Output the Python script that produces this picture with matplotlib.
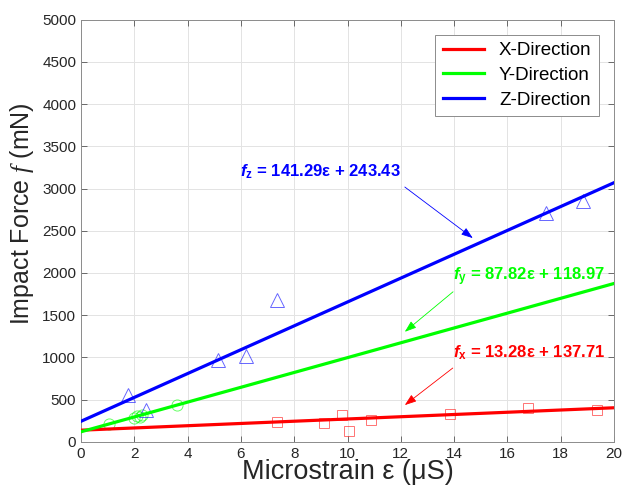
import matplotlib
matplotlib.use("Agg")
import matplotlib.pyplot as plt

# fitted coefficients (slope, intercept) per direction
fit_x = (13.28, 137.71)
fit_y = (87.82, 118.97)
fit_z = (141.29, 243.43)
fit_range = [0, 20]

# measured points
eps_x = [7.35, 9.1, 9.78, 10.04, 10.88, 13.84, 16.78, 19.38]
force_x = [236, 224, 319, 130, 264, 331, 405, 374]

eps_y = [1.06, 2.0, 2.1, 2.2, 2.3, 3.59]
force_y = [209, 285, 300, 292, 312, 441]

eps_z = [1.75, 2.44, 5.13, 6.19, 7.37, 17.46, 18.84]
force_z = [551, 382, 965, 1012, 1679, 2706, 2855]

x_ticks = list(range(0, 21, 2))
y_ticks = list(range(0, 5001, 500))

plt.rcParams["font.family"] = ["Liberation Sans", "DejaVu Sans"]
plt.rcParams["mathtext.fontset"] = "custom"
plt.rcParams["mathtext.it"] = "Liberation Serif:italic"
plt.rcParams["mathtext.bf"] = "Liberation Sans:bold"
plt.rcParams["mathtext.bfit"] = "Liberation Sans:italic:bold"
plt.rcParams["mathtext.rm"] = "Liberation Sans"

fig = plt.figure(figsize=(6.33, 4.92), dpi=100)
ax = fig.add_axes([0.128, 0.102, 0.842, 0.858])

red, green, blue = "#ff0000", "#00ff00", "#0000ff"


def fit_line(coef):
    return [coef[0] * e + coef[1] for e in fit_range]


ax.plot(fit_range, fit_line(fit_x), color=red, lw=2.3, label="X-Direction", zorder=3)
ax.plot(fit_range, fit_line(fit_y), color=green, lw=2.3, label="Y-Direction", zorder=3)
ax.plot(fit_range, fit_line(fit_z), color=blue, lw=2.3, label="Z-Direction", zorder=3)

ax.plot(eps_x, force_x, "s", ms=7, mfc="none", mec=red, mew=0.7, alpha=0.55, zorder=2)
ax.plot(eps_y, force_y, "o", ms=8, mfc="none", mec=green, mew=0.7, alpha=0.6, zorder=2)
ax.plot(eps_z, force_z, "^", ms=9.5, mfc="none", mec=blue, mew=0.7, alpha=0.6, zorder=2)

ann = dict(fontsize=12, fontweight="bold", ha="left", va="baseline")
arrow = dict(arrowstyle="-|>,head_length=0.7,head_width=0.25", lw=0.6, shrinkA=0, shrinkB=0)

ax.text(5.96, 3136, r"$\mathbfit{f}_{\mathbf{z}}$ = 141.29ε + 243.43", color=blue, **ann)
ax.annotate("", xy=(14.7, 2413), xytext=(12.15, 3018),
            arrowprops=dict(color=blue, **arrow))

ax.text(13.96, 1905, r"$\mathbfit{f}_{\mathbf{y}}$ = 87.82ε + 118.97", color=green, **ann)
ax.annotate("", xy=(12.15, 1303), xytext=(13.96, 1777),
            arrowprops=dict(color=green, **arrow))

ax.text(13.96, 1000, r"$\mathbfit{f}_{\mathbf{x}}$ = 13.28ε + 137.71", color=red, **ann)
ax.annotate("", xy=(12.15, 435), xytext=(13.95, 874),
            arrowprops=dict(color=red, **arrow))

ax.set_xlim(0, 20)
ax.set_ylim(0, 5000)
ax.set_xticks(x_ticks)
ax.set_yticks(y_ticks)
ax.tick_params(direction="in", top=True, right=True, length=4, width=0.6,
               labelsize=11, labelcolor="#262626", color="#555555")
ax.grid(True, color="#e3e3e3", lw=0.7)
ax.set_axisbelow(True)
for spine in ax.spines.values():
    spine.set_color("#8c8c8c")
    spine.set_linewidth(0.7)

ax.set_xlabel("Microstrain ε (μS)", fontsize=19.5, color="#262626", labelpad=-1)
ax.set_ylabel(r"Impact Force $\mathit{f}$ (mN)", fontsize=18, color="#262626")
ax.yaxis.set_label_coords(-0.085, 0.54)

leg = ax.legend(loc="upper right", fontsize=13.5, fancybox=False, framealpha=1,
                edgecolor="#8c8c8c", handlelength=2.2, borderaxespad=0.8,
                labelspacing=0.4, borderpad=0.4)
leg.get_frame().set_linewidth(0.7)

fig.savefig("out.png", dpi=100)
